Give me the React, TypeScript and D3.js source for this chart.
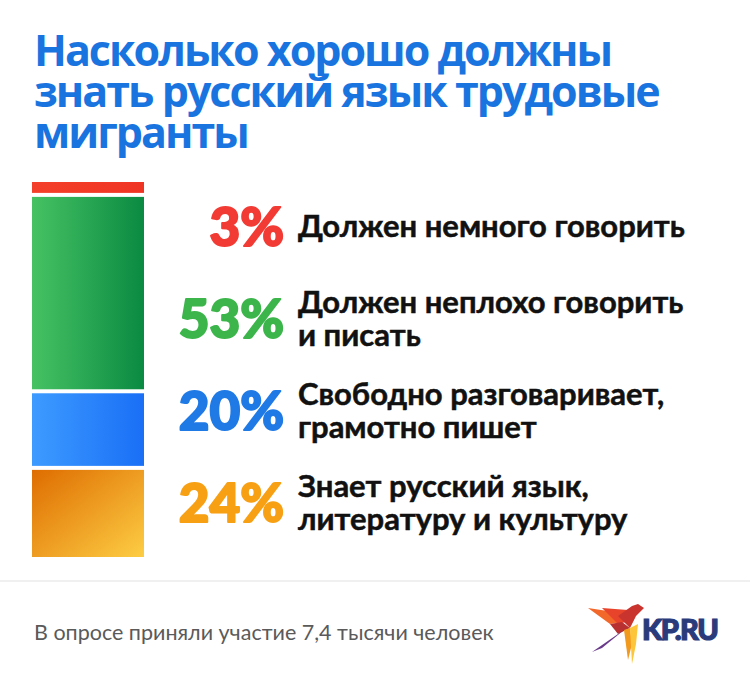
import React, { useEffect, useRef } from "react";
import * as d3 from "d3";

const titleLines = ["Насколько хорошо должны", "знать русский язык трудовые", "мигранты"];
const categories = ["little", "fair", "fluent", "full"];
const values = [3, 53, 20, 24];
const percentLabels = ["3%", "53%", "20%", "24%"];
const descriptions = [
  ["Должен немного говорить"],
  ["Должен неплохо говорить", "и писать"],
  ["Свободно разговаривает,", "грамотно пишет"],
  ["Знает русский язык,", "литературу и культуру"],
];
const footnote = "В опросе приняли участие 7,4 тысячи человек";

const labelColors = ["#f23b34", "#3cb54b", "#1f7ae6", "#f8a014"];
const gradients = [
  { id: "g-red", x1: "0", y1: "0", x2: "1", y2: "0", from: "#f4402a", to: "#f03424" },
  { id: "g-green", x1: "0", y1: "0", x2: "1", y2: "0", from: "#46c263", to: "#0a8a42" },
  { id: "g-blue", x1: "0", y1: "0", x2: "1", y2: "0", from: "#3d9bff", to: "#1a6ff6" },
  { id: "g-orange", x1: "0", y1: "0", x2: "1", y2: "1", from: "#de6d00", to: "#fdcd44" },
];

const W = 750;
const H = 677;

const App: React.FC = () => {
  const svgRef = useRef<SVGSVGElement | null>(null);

  useEffect(() => {
    const svg = d3.select(svgRef.current);
    svg.selectAll("*").remove();

    const defs = svg.append("defs");
    gradients.forEach((g) => {
      const lg = defs
        .append("linearGradient")
        .attr("id", g.id)
        .attr("x1", g.x1)
        .attr("y1", g.y1)
        .attr("x2", g.x2)
        .attr("y2", g.y2);
      lg.append("stop").attr("offset", "0%").attr("stop-color", g.from);
      lg.append("stop").attr("offset", "100%").attr("stop-color", g.to);
    });

    // title
    svg
      .append("g")
      .selectAll("text")
      .data(titleLines)
      .join("text")
      .attr("x", 34)
      .attr("y", (_, i) => 66 + i * 41)
      .attr("fill", "#1a74e0")
      .style("font-family", "'Open Sans', sans-serif")
      .style("font-weight", 700)
      .style("font-size", "43px")
      .style("letter-spacing", "-2px")
      .text((d) => d);

    // stacked bar
    const barTop = 182;
    const barBottom = 557;
    const gap = 4;
    const x0 = 32;
    const x1 = 144;
    const y = d3
      .scaleLinear()
      .domain([0, d3.sum(values)])
      .range([0, barBottom - barTop - gap * (values.length - 1)]);

    let acc = 0;
    const segs = values.map((v, i) => {
      const top = barTop + y(acc) + i * gap;
      acc += v;
      return { top, h: y(v), i };
    });

    svg
      .append("g")
      .selectAll("rect")
      .data(segs)
      .join("rect")
      .attr("x", x0)
      .attr("y", (d) => d.top)
      .attr("width", x1 - x0)
      .attr("height", (d) => d.h)
      .attr("fill", (d) => `url(#${gradients[d.i].id})`);

    // rows
    const row = d3.scalePoint<string>().domain(categories).range([227, 503]);

    svg
      .append("g")
      .selectAll("text")
      .data(categories)
      .join("text")
      .attr("x", 284)
      .attr("y", (d) => row(d)! + 19)
      .attr("text-anchor", "end")
      .attr("fill", (_, i) => labelColors[i])
      .attr("stroke", (_, i) => labelColors[i])
      .attr("stroke-width", 2)
      .attr("stroke-linejoin", "round")
      .style("font-family", "Lato, sans-serif")
      .style("font-weight", 900)
      .style("font-size", "53px")
      .text((_, i) => percentLabels[i]);

    const lineH = 33;
    categories.forEach((c, i) => {
      const lines = descriptions[i];
      svg
        .append("g")
        .selectAll("text")
        .data(lines)
        .join("text")
        .attr("x", 298)
        .attr("y", (_, j) => row(c)! + 10 + (j - (lines.length - 1) / 2) * lineH)
        .attr("fill", "#111")
        .attr("stroke", "#111")
        .attr("stroke-width", 0.5)
        .style("font-family", "Lato, sans-serif")
        .style("font-weight", 700)
        .style("font-size", "31px")
        .text((d) => d);
    });

    // footer
    svg
      .append("line")
      .attr("x1", 0)
      .attr("x2", W)
      .attr("y1", 581)
      .attr("y2", 581)
      .attr("stroke", "#f0f0f0")
      .attr("stroke-width", 2);

    svg
      .append("text")
      .attr("x", 34)
      .attr("y", 640)
      .attr("fill", "#5a5a5a")
      .style("font-family", "Lato, sans-serif")
      .style("font-size", "21.5px")
      .text(footnote);

    // logo
    const logo = svg.append("g").attr("transform", "translate(588,604)");
    const polys: [string, string][] = [
      ["#f2672a", "0,4 26,8 34,18 22,20"],
      ["#e8442c", "14,4 40,6 46,16 30,20"],
      ["#c9352e", "30,12 44,2 50,0 56,4 48,12 42,24"],
      ["#b8302f", "22,20 34,18 42,24 30,30"],
      ["#6a3a8a", "30,30 36,26 14,44 4,48"],
      ["#f29a1e", "36,26 42,24 44,40 40,56"],
      ["#fcc53a", "42,24 50,20 48,40 44,60"],
    ];
    logo
      .selectAll("polygon")
      .data(polys)
      .join("polygon")
      .attr("points", (d) => d[1])
      .attr("fill", (d) => d[0]);
    logo
      .append("text")
      .attr("x", 54)
      .attr("y", 36)
      .attr("fill", "#2a3b7c")
      .attr("stroke", "#2a3b7c")
      .attr("stroke-width", 1.2)
      .style("font-family", "Lato, sans-serif")
      .style("font-weight", 900)
      .style("font-size", "29px")
      .style("letter-spacing", "-1.5px")
      .text("KP.RU");

    svg.attr("width", W).attr("height", H);
  }, []);

  return (
    <div style={{ position: "absolute", left: 0, top: 0, background: "#fff" }}>
      <svg ref={svgRef} style={{ display: "block" }}></svg>
    </div>
  );
};

export default App;
